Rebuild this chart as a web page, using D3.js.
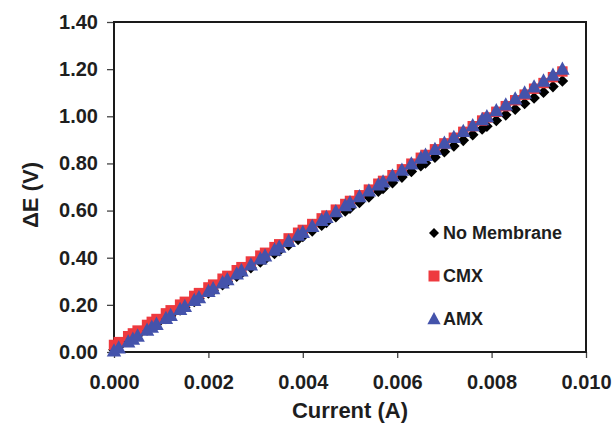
<!DOCTYPE html>
<html><head><meta charset="utf-8">
<script src="https://cdn.jsdelivr.net/npm/d3@7"></script>
<style>
html,body{margin:0;padding:0;background:#fff;}
svg{display:block;font-family:"Liberation Sans",Arial,sans-serif;}
</style></head>
<body><svg id="c" width="614" height="432"></svg>
<script>
const currents = [0.0000,0.0001,0.0003,0.0004,0.0005,0.0007,0.0008,0.0009,0.0011,0.0012,0.0014,0.0015,0.0017,0.0018,0.0020,0.0021,0.0023,0.0024,0.0026,0.0027,0.0029,0.0031,0.0032,0.0034,0.0035,0.0037,0.0039,0.0040,0.0042,0.0044,0.0045,0.0047,0.0049,0.0050,0.0052,0.0054,0.0056,0.0057,0.0059,0.0061,0.0063,0.0065,0.0066,0.0068,0.0070,0.0072,0.0074,0.0076,0.0078,0.0079,0.0081,0.0083,0.0085,0.0087,0.0089,0.0091,0.0093,0.0095];
const noMembrane = [0.010,0.022,0.046,0.058,0.070,0.094,0.106,0.118,0.142,0.154,0.178,0.190,0.214,0.226,0.250,0.262,0.286,0.298,0.322,0.334,0.358,0.382,0.394,0.418,0.430,0.454,0.478,0.490,0.514,0.538,0.550,0.574,0.598,0.610,0.634,0.658,0.682,0.694,0.718,0.742,0.766,0.790,0.802,0.826,0.850,0.874,0.898,0.922,0.946,0.958,0.982,1.006,1.030,1.054,1.078,1.102,1.126,1.150];
const cmx = [0.030,0.042,0.067,0.079,0.091,0.115,0.128,0.140,0.164,0.177,0.201,0.213,0.238,0.250,0.274,0.286,0.311,0.323,0.347,0.360,0.384,0.409,0.421,0.445,0.457,0.482,0.506,0.518,0.543,0.567,0.579,0.604,0.628,0.641,0.665,0.689,0.714,0.726,0.750,0.775,0.799,0.824,0.836,0.860,0.885,0.909,0.934,0.958,0.982,0.995,1.019,1.043,1.068,1.092,1.117,1.141,1.166,1.190];
const amx = [0.005,0.018,0.043,0.055,0.068,0.093,0.106,0.118,0.143,0.156,0.181,0.194,0.219,0.231,0.257,0.269,0.294,0.307,0.332,0.345,0.370,0.395,0.408,0.433,0.445,0.470,0.496,0.508,0.533,0.559,0.571,0.596,0.621,0.634,0.659,0.684,0.709,0.722,0.747,0.772,0.798,0.823,0.835,0.860,0.886,0.911,0.936,0.961,0.986,0.999,1.024,1.049,1.074,1.099,1.125,1.150,1.175,1.200];
const seriesNames = ["No Membrane","CMX","AMX"];
const xTicks = [0,0.002,0.004,0.006,0.008,0.010];
const yTicks = [0,0.2,0.4,0.6,0.8,1.0,1.2,1.4];

const svg = d3.select("#c");
const L=114, R=586, T=22, B=352;
const x = d3.scaleLinear().domain([0,0.01]).range([L,R]);
const y = d3.scaleLinear().domain([0,1.4]).range([B,T]);
const txt = "#1e1e1e";

// axes
const ya = svg.append("g").attr("transform",`translate(${L},0)`)
  .call(d3.axisLeft(y).tickValues(yTicks).tickFormat(d3.format(".2f")).tickSize(7).tickPadding(9));
const xa = svg.append("g").attr("transform",`translate(0,${B})`)
  .call(d3.axisBottom(x).tickValues(xTicks).tickFormat(d3.format(".3f")).tickSize(6).tickPadding(17));
[ya,xa].forEach(g=>{
  g.select(".domain").remove();
  g.selectAll(".tick line").attr("stroke","#444").attr("stroke-width",1.3);
  g.selectAll(".tick text").attr("fill",txt).style("font-size","20px").style("font-weight","bold").style("font-family","'Liberation Sans',Arial,sans-serif");
});

// frame
svg.append("rect").attr("x",L).attr("y",T).attr("width",R-L).attr("height",B-T)
  .attr("fill","none").attr("stroke","#1a1a1a").attr("stroke-width",2);

// marker shapes
const diamond = r => `M0,${-r}L${r},0L0,${r}L${-r},0Z`;
const square = r => `M${-r},${-r}H${r}V${r}H${-r}Z`;
const triangle = r => `M0,${-r}L${r*0.95},${r*0.75}L${-r*0.95},${r*0.75}Z`;

const series = [
  {name:seriesNames[0], vals:noMembrane, color:"#000000", shape:diamond, r:5.8},
  {name:seriesNames[1], vals:cmx, color:"#ee3a3f", shape:square, r:5.2},
  {name:seriesNames[2], vals:amx, color:"#4453ab", shape:triangle, r:7.6}
];

series.forEach(s=>{
  svg.append("g").selectAll("path").data(currents.map((c,i)=>[c,s.vals[i]])).join("path")
    .attr("d",s.shape(s.r))
    .attr("transform",d=>`translate(${x(d[0])},${y(d[1])})`)
    .attr("fill",s.color);
});

// legend
const leg = [
  {s:series[0], cy:233, r:5},
  {s:series[1], cy:276, r:5.5},
  {s:series[2], cy:319, r:7}
];
leg.forEach(l=>{
  svg.append("path").attr("d",l.s.shape(l.r)).attr("transform",`translate(434,${l.cy})`).attr("fill",l.s.color);
  svg.append("text").attr("x",443).attr("y",l.cy).attr("dy","0.36em")
    .attr("fill",txt).style("font-size","18px").style("font-weight","bold").text(l.s.name);
});

// axis titles
svg.append("text").attr("x",(L+R)/2).attr("y",410).attr("dy","0.36em").attr("text-anchor","middle")
  .attr("fill",txt).style("font-size","22px").style("font-weight","bold").text("Current (A)");
svg.append("text").attr("transform","translate(30,195) rotate(-90)").attr("dy","0.36em").attr("text-anchor","middle")
  .attr("fill",txt).style("font-size","22px").style("font-weight","bold").text("ΔE (V)");
</script></body></html>
